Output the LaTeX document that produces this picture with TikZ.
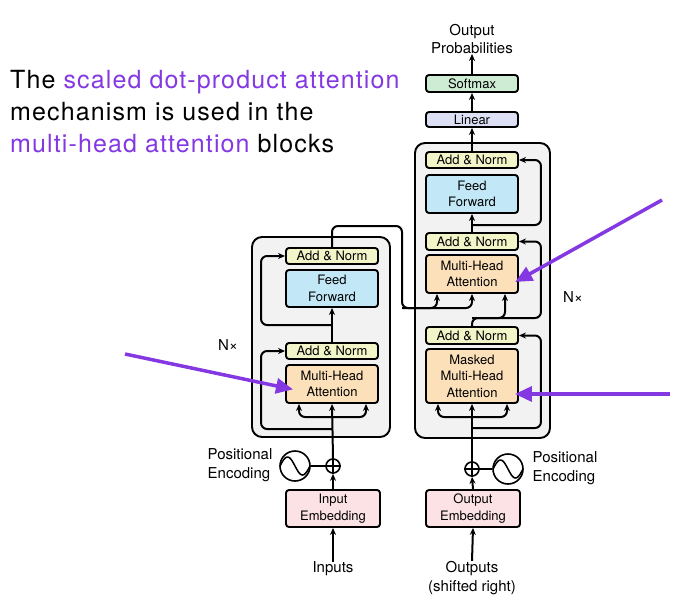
\documentclass[tikz,border=0pt]{standalone}
\usepackage{fontspec}
\setmainfont{TeX Gyre Heros}
\usetikzlibrary{calc,arrows.meta}
\definecolor{anC}{RGB}{242,245,200}
\definecolor{ffC}{RGB}{194,232,247}
\definecolor{mhC}{RGB}{252,224,186}
\definecolor{emC}{RGB}{252,226,229}
\definecolor{liC}{RGB}{221,224,244}
\definecolor{smC}{RGB}{206,235,212}
\definecolor{bgC}{RGB}{242,242,242}
\definecolor{puC}{RGB}{132,56,226}
\newcommand\bxf{\fontsize{13}{16.5}\selectfont}
\newcommand\lbf{\fontsize{15}{19.5}\selectfont}
\newcommand\ttlf{\fontsize{25}{32}\selectfont\addfontfeature{LetterSpace=4.5}}
\begin{document}
\begin{tikzpicture}[x=1pt,y=-1pt,
  comp/.style={draw, line width=1.9pt, rounded corners=3pt, minimum width=92pt, inner sep=0pt, align=center, font=\bxf},
  an/.style={comp, fill=anC, minimum height=16pt},
  ff/.style={comp, fill=ffC, minimum height=37pt},
  mh/.style={comp, fill=mhC, minimum height=38pt},
  em/.style={comp, fill=emC, minimum height=37pt, minimum width=94pt},
  bgbox/.style={draw, line width=1.9pt, rounded corners=10pt, fill=bgC, inner sep=0pt},
  lbl/.style={font=\lbf, align=center, inner sep=0pt},
  conn/.style={line width=2pt},
  arr/.style={conn, -{Stealth[length=7pt,width=6pt]}},
  rc/.style={rounded corners=6pt},
  parr/.style={line width=3.5pt, puC, -{Triangle[length=17pt,width=15pt]}, shorten >=-2pt},
  ttl/.style={font=\ttlf, anchor=base west, inner sep=0pt}
]
\path[use as bounding box] (0,0) rectangle (674,600);

% title
\node[ttl] (t1) at (10,88) {The \textcolor{puC}{scaled dot-product attention}};
\node[ttl] (t2) at (10,120) {mechanism is used in the};
\node[ttl] (t3) at (10,152) {\textcolor{puC}{multi-head attention} blocks};

% block backgrounds
\node[bgbox, minimum width=138pt, minimum height=200pt] (encbox) at (321,337) {};
\node[bgbox, minimum width=135pt, minimum height=295pt] (decbox) at (482.5,290.5) {};

% encoder
\node[an] (eAN2) at (332,256) {Add \& Norm};
\node[ff] (eFF) at (332,288.5) {Feed\\Forward};
\node[an] (eAN1) at (332,351) {Add \& Norm};
\node[mh] (eMHA) at (332,384) {Multi-Head\\Attention};

% decoder
\node[an] (dAN3) at (472,160) {Add \& Norm};
\node[ff, minimum height=38pt] (dFF) at (472,194) {Feed\\Forward};
\node[an, minimum height=17pt] (dAN2) at (472,241.5) {Add \& Norm};
\node[mh] (dMHA) at (472,274) {Multi-Head\\Attention};
\node[an, minimum height=17pt] (dAN1) at (472,335.5) {Add \& Norm};
\node[mh, minimum height=54pt] (dMMHA) at (472,376) {Masked\\Multi-Head\\Attention};

% output head
\node[comp, fill=liC, minimum height=15pt] (lin) at (472,119.5) {Linear};
\node[comp, fill=smC, minimum height=17pt] (soft) at (472,83.5) {Softmax};
\node[lbl, font=\fontsize{15}{18}\selectfont] (prob) at (472,39) {Output\\Probabilities};

% embeddings
\node[em] (inEmb) at (333,508.5) {Input\\Embedding};
\node[em] (outEmb) at (473,508.5) {Output\\Embedding};
\node[lbl] (inputs) at (333,569) {Inputs};
\node[lbl] (outputs) at (472,578) {Outputs\\(shifted right)};

% positional encoding
\node[circle, draw, line width=1.6pt, minimum size=14pt, inner sep=0pt] (eplus) at (333,466) {};
\draw[line width=1.5pt] (eplus.north) -- (eplus.south) (eplus.west) -- (eplus.east);
\node[circle, draw, line width=1.6pt, minimum size=30pt, inner sep=0pt] (esin) at (295,466) {};
\draw[line width=1.5pt, shift={(esin.center)}] plot[domain=-15:15, samples=50, smooth] (\x,{9*sin(\x*12)});
\draw[conn] (esin.east) -- (eplus.west);
\node[lbl, align=left] (epos) at (240,465) {Positional\\Encoding};

\node[circle, draw, line width=1.6pt, minimum size=14pt, inner sep=0pt] (dplus) at (472,469) {};
\draw[line width=1.5pt] (dplus.north) -- (dplus.south) (dplus.west) -- (dplus.east);
\node[circle, draw, line width=1.6pt, minimum size=30pt, inner sep=0pt] (dsin) at (508,469) {};
\draw[line width=1.5pt, shift={(dsin.center)}] plot[domain=-15:15, samples=50, smooth] (\x,{9*sin(\x*12)});
\draw[conn] (dplus.east) -- (dsin.west);
\node[lbl, align=left] (dpos) at (565,468) {Positional\\Encoding};

% N x labels
\node[lbl] (eN) at (228,345) {N×};
\node[lbl] (dN) at (573,297) {N×};

% encoder connectors
\coordinate (ej1) at (332,417);
\coordinate (ej2) at (332,429);
\coordinate (ej3) at (332,325);
\draw[arr] (inputs.north) -- (inEmb.south);
\draw[arr] (inEmb.north) -- (eplus.south);
\draw[arr] (eplus.north) -- (eMHA.south);
\draw[arr, rc] (ej1) -| ([xshift=-33pt]eMHA.south);
\draw[arr, rc] (ej1) -| ([xshift=34pt]eMHA.south);
\draw[arr, rc] (ej2) -| ([xshift=-24pt]eAN1.west) -- (eAN1.west);
\draw[arr] (eAN1.north) -- (eFF.south);
\draw[arr, rc] (ej3) -| ([xshift=-24pt]eAN2.west) -- (eAN2.west);

% encoder to decoder
\coordinate (ec1) at (402,226);
\coordinate (ec2) at (402,308);
\draw[arr, rc] (eAN2.north) |- (ec1) -- (ec2) -| (dMHA.south);
\draw[arr, rc] (ec2) -| ([xshift=-35pt]dMHA.south);

% decoder connectors
\coordinate (dj1) at (472,417);
\coordinate (dj2) at (472,428);
\coordinate (dj3) at (472,318);
\coordinate (dj4) at (472,225);
\draw[arr] (outputs.north) -- (outEmb.south);
\draw[arr] (outEmb.north) -- (dplus.south);
\draw[arr] (dplus.north) -- (dMMHA.south);
\draw[arr, rc] (dj1) -| ([xshift=-34pt]dMMHA.south);
\draw[arr, rc] (dj1) -| ([xshift=35pt]dMMHA.south);
\draw[arr, rc] (dj2) -| ([xshift=22pt]dAN1.east) -- (dAN1.east);
\draw[arr, rc] (dAN1.north) -- (dj3) -| ([xshift=33pt]dMHA.south);
\draw[arr, rc] (dj3) -| ([xshift=22pt]dAN2.east) -- (dAN2.east);
\draw[arr] (dAN2.north) -- (dFF.south);
\draw[arr, rc] (dj4) -| ([xshift=22pt]dAN3.east) -- (dAN3.east);
\draw[arr] (dAN3.north) -- (lin.south);
\draw[arr] (lin.north) -- (soft.south);
\draw[arr] (soft.north) -- (prob.south);

% purple pointers
\coordinate (p1) at (125,354);
\coordinate (p2) at (662,200);
\coordinate (p3) at (670,394);
\draw[parr] (p1) -- ($(eMHA.west)+(6,5)$);
\draw[parr] (p2) -- ($(dMHA.east)+(-2,7)$);
\draw[parr] (p3) -- ($(dMMHA.east)+(-2,18)$);
\end{tikzpicture}
\end{document}
